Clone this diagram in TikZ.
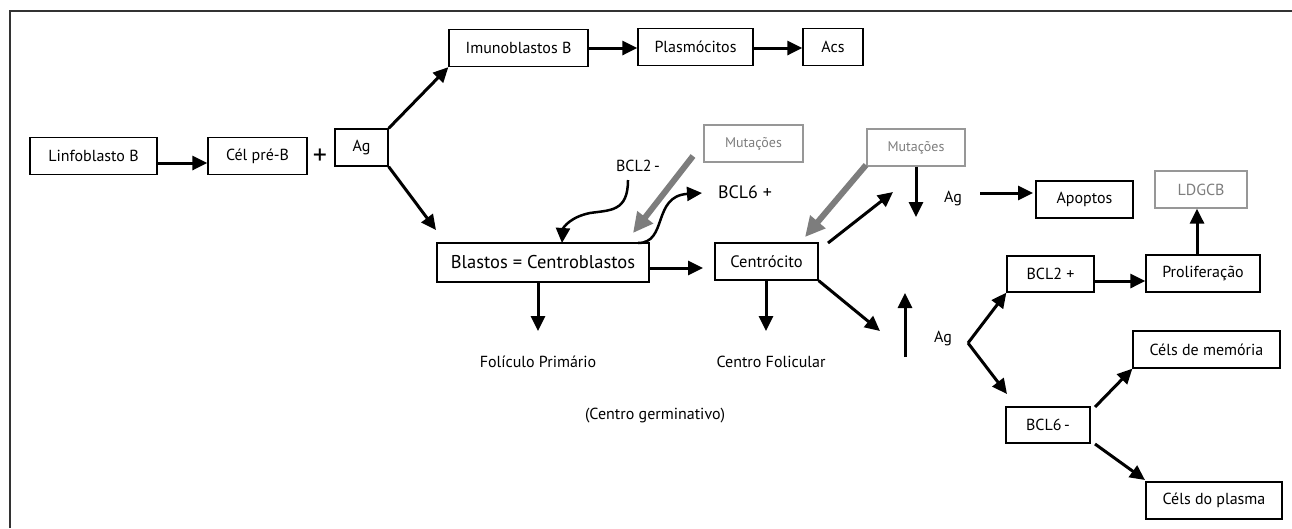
\documentclass[tikz,border=0pt]{standalone}
\usepackage{fontspec}
\setmainfont{PT Sans}
\usepackage{tikz}
\usetikzlibrary{arrows.meta, calc}
\definecolor{mutgray}{RGB}{125,125,125}

\begin{document}
\begin{tikzpicture}[
            x=1pt, y=-1pt,
            every node/.style={inner sep=0pt, font=\fontsize{16}{19}\selectfont},
            box/.style={draw, line width=1.3pt, minimum height=37pt},
            mutbox/.style={box, draw=mutgray!80, text=mutgray},
            >={Triangle[length=15pt, width=14pt]},
            arr/.style={->, line width=3pt},
            bigarr/.style={-{Triangle[length=20pt, width=19pt]}, line width=6pt, draw=mutgray}
        ]
            \useasboundingbox (0,0) rectangle (1292,528);
            \draw[line width=1.4pt, black!80] (10,528) -- (10,11) -- (1292,11);
            % left part
            \node[box, minimum width=127pt] (linfo) at (93.5,156) {Linfoblasto B};
            \node[box, minimum width=99pt] (preb) at (257.5,156) {Cél pré-B};
            \node[font=\fontsize{28}{28}\selectfont] (plus) at (320,157) {+};
            \node[box, minimum width=53pt] (ag) at (361.5,147.5) {Ag};
            \node[box, minimum width=139pt] (imuno) at (518.5,48) {Imunoblastos B};
            \node[box, minimum width=115pt] (plasmo) at (695.5,47) {Plasmócitos};
            \node[box, minimum width=60pt] (acs) at (833,47) {Acs};
            % germinal centre
            \node[mutbox, minimum width=99pt, font=\fontsize{14}{17}\selectfont] (mut1) at (753.5,143.5) {Mutações};
            \node (bcl2m) at (638,166) {BCL2\,-};
            \node[font=\fontsize{18}{21}\selectfont] (bcl6p) at (745,192) {BCL6 +};
            \node[box, minimum width=212pt, minimum height=39pt, font=\fontsize{18.5}{22}\selectfont] (blastos) at (543,262.5) {Blastos = Centroblastos};
            \node[box, minimum width=103pt, font=\fontsize{16.5}{20}\selectfont] (centro) at (766.5,261.5) {Centrócito};
            \node (foliculo) at (538,362) {Folículo Primário};
            \node (cfolic) at (771,362) {Centro Folicular};
            \node (germ) at (655,416) {(Centro germinativo)};
            % right part
            \node[mutbox, minimum width=98pt, font=\fontsize{14}{17}\selectfont] (mut2) at (916,147.5) {Mutações};
            \node (ag2) at (953,199) {Ag};
            \node[box, minimum width=97pt] (apoptos) at (1084.5,199.5) {Apoptos};
            \node[mutbox, minimum width=92pt] (ldgcb) at (1201,189.5) {LDGCB};
            \node[box, minimum width=87pt, minimum height=36pt] (bcl2p) at (1050.5,274) {BCL2 +};
            \node[box, minimum width=114pt] (prolif) at (1203,273.5) {Proliferação};
            \node (ag3) at (943,338) {Ag};
            \node[box, minimum width=84pt, minimum height=36pt] (bcl6m) at (1048,425) {BCL6\,-};
            \node[box, minimum width=147pt] (memoria) at (1206.5,349.5) {Céls de memória};
            \node[box, minimum width=136pt] (plasma) at (1214,500.5) {Céls do plasma};
            % free ends
            \coordinate (blastostop) at (436,230);
            \coordinate (centroin) at (703,268);
            \coordinate (folictop) at (538,331);
            \coordinate (cfolictop) at (766,331);
            \coordinate (g1start) at (693,156);
            \coordinate (g1end) at (633,233);
            \coordinate (g2start) at (866,165);
            \coordinate (g2end) at (805,237);
            \coordinate (wave2start) at (628,180);
            \coordinate (wave2end) at (562,243);
            \coordinate (wave6start) at (638,243);
            \coordinate (wave6end) at (702,193);
            \coordinate (centrone0) at (828,243);
            \coordinate (centrone) at (893,192);
            \coordinate (mutdown) at (916,217);
            \coordinate (ag2out) at (980,193);
            \coordinate (apoptin) at (1033,193);
            \coordinate (centrodown) at (880,331);
            \coordinate (upfoot) at (905,357);
            \coordinate (uphead) at (905,293);
            \coordinate (branch) at (968,343);
            \coordinate (bcl6top) at (1007,394);
            \coordinate (bcl6ne) at (1095,407);
            \coordinate (bcl6se) at (1095,444);
            \coordinate (plasmain) at (1145,480);
            \path[arr]
            (linfo.east |- 0,163) edge (preb.west |- 0,163)
            (ag.north east) edge (imuno.south west)
            (ag.south east) edge (blastostop)
            (imuno.east |- 0,48) edge (plasmo.west |- 0,48)
            (plasmo.east |- 0,48) edge (acs.west |- 0,48)
            (blastos.east |- centroin) edge (centroin)
            (blastos.south -| folictop) edge (folictop)
            (centro.south -| cfolictop) edge (cfolictop)
            (centrone0) edge (centrone)
            (centro.south east) edge (centrodown)
            (mut2.south) edge (mutdown)
            (ag2out) edge (apoptin)
            (upfoot) edge (uphead)
            (branch) edge (bcl2p.south west)
            (branch) edge (bcl6top)
            (bcl2p.east |- 0,281) edge (prolif.west |- 0,281)
            (prolif.north -| 1197,0) edge (ldgcb.south -| 1197,0)
            (bcl6ne) edge (memoria.south west)
            (bcl6se) edge (plasmain)
            ;
            \draw[arr, line width=2.5pt] (wave2start) .. controls (628,212) and (610,210) .. (590,213) .. controls (570,217) and (563,228) .. (wave2end);
            \draw[arr, line width=2.5pt] (wave6start) .. controls (668,243) and (652,196) .. (wave6end);
            \draw[bigarr] (g1start) -- (g1end);
            \draw[bigarr] (g2start) -- (g2end);
        \end{tikzpicture}
\end{document}
